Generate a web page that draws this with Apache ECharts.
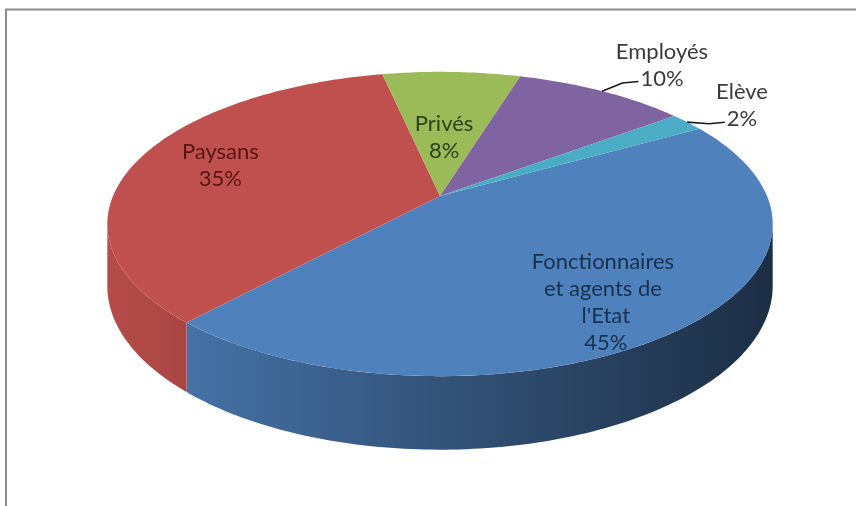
<!DOCTYPE html>
<html>
<head>
<meta charset="utf-8">
<style>
  html, body { margin: 0; padding: 0; background: #fff; }
  #chart { width: 856px; height: 506px; }
</style>
<script src="https://cdn.jsdelivr.net/npm/echarts@6/dist/echarts.min.js"></script>
</head>
<body>
<div id="chart"></div>
<script>
const categories = ["Fonctionnaires et agents de l'Etat", 'Paysans', 'Privés', 'Employés', 'Elève']
const shares = [45, 35, 8, 10, 2]

const sliceColors = ['#4f81bd', '#c0504d', '#9bbb59', '#8064a2', '#4bacc6']
const labelColors = ['#17304f', '#561515', '#2f4016', '#3a3a3a', '#3a3a3a']
const labelRadius = [0.78, 0.73, 0.43, 1.34, 1.25]
const labelNudge = [4, 2, -0.6, 2.5, 0]
const labelOutside = [false, false, false, true, true]

// fake 3D pie: tilted disc with a bit of perspective
const AX = 440, AY = 196, SX = 327, SY = 147, P = 0.184, DEPTH = 60
const FIRST_ANGLE = 60
const FONT = '22px Lato'
const LINE_H = 27

const total = shares.reduce((a, b) => a + b, 0)
const starts = []
let acc = FIRST_ANGLE
shares.forEach((v) => { starts.push(acc); acc += v / total * 360 })

const rad = (d) => d * Math.PI / 180
function proj(deg, r, drop) {
  const t = rad(deg)
  const c = Math.cos(t), s = Math.sin(t)
  const k = 1 + P * r * c
  return [AX + SX * r * s / k, AY - SY * r * c / k + (drop ? DEPTH / k : 0)]
}
function arc(a, b, r, drop) {
  const n = Math.max(2, Math.ceil(Math.abs(b - a)))
  const pts = []
  for (let i = 0; i <= n; i++) pts.push(proj(a + (b - a) * i / n, r, drop))
  return pts
}
function shade(hex, f) {
  const n = parseInt(hex.slice(1), 16)
  const ch = [(n >> 16) & 255, (n >> 8) & 255, n & 255].map((v) => Math.round(v * f))
  return 'rgb(' + ch.join(',') + ')'
}

const wallFrom = Math.acos(-P) * 180 / Math.PI
const wallTo = 360 - wallFrom
const halfW = SX / Math.sqrt(1 - P * P)

function wallFill(color) {
  return {
    type: 'linear', x: AX - halfW, y: 0, x2: AX + halfW, y2: 0, global: true,
    colorStops: [
      { offset: 0, color: shade(color, 0.95) },
      { offset: 0.5, color: shade(color, 0.64) },
      { offset: 1, color: shade(color, 0.36) }
    ]
  }
}

const measureCtx = document.createElement('canvas').getContext('2d')
measureCtx.font = FONT

function renderItem(params, api) {
  const i = params.dataIndex
  const a = starts[i]
  const b = a + api.value(0) / total * 360
  const children = []

  for (const k of [-360, 0, 360]) {
    const lo = Math.max(a, wallFrom + k), hi = Math.min(b, wallTo + k)
    if (hi > lo) {
      children.push({
        type: 'polygon',
        shape: { points: arc(lo, hi, 1, false).concat(arc(hi, lo, 1, true)) },
        style: { fill: wallFill(sliceColors[i]) }
      })
    }
  }

  children.push({
    type: 'polygon',
    shape: { points: [[AX, AY]].concat(arc(a, b, 1, false)) },
    style: { fill: sliceColors[i] }
  })

  const mid = (a + b) / 2
  const pos = proj(mid + labelNudge[i], labelRadius[i], false)
  const pct = Math.round(api.value(0) / total * 100) + '%'

  if (labelOutside[i]) {
    const rim = proj(mid, 1, false)
    const end = [pos[0] - measureCtx.measureText(pct).width / 2 - 2, pos[1] + LINE_H / 2 + 3]
    children.push({
      type: 'polyline',
      shape: { points: [rim, [end[0] - 16, end[1] + 1.5], end] },
      style: { stroke: '#1a1a1a', lineWidth: 1.6, fill: null }
    })
  }

  children.push({
    type: 'text',
    x: pos[0],
    y: pos[1],
    z2: 10,
    style: {
      text: categories[i] + '\n' + pct,
      fill: labelColors[i],
      font: FONT,
      align: 'center',
      verticalAlign: 'middle',
      lineHeight: LINE_H,
      width: 155,
      overflow: 'break'
    }
  })

  return { type: 'group', children }
}

const chart = echarts.init(document.getElementById('chart'), null, { renderer: 'canvas' })
chart.setOption({
  animation: false,
  graphic: [{
    type: 'rect',
    z: -1,
    silent: true,
    shape: { x: 6, y: 9.5, width: 900, height: 600 },
    style: { fill: 'none', stroke: '#8c8c8c', lineWidth: 2 }
  }],
  series: [{
    type: 'custom',
    coordinateSystem: 'none',
    renderItem,
    data: shares.map((v, i) => ({ name: categories[i], value: v }))
  }]
})
</script>
</body>
</html>
